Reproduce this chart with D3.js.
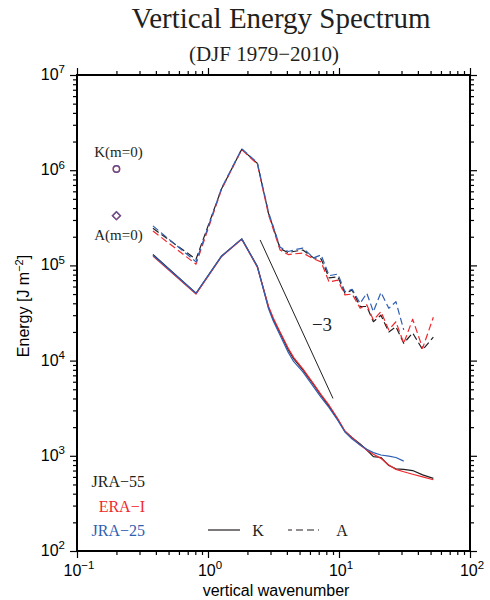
<!DOCTYPE html>
<html>
<head>
<meta charset="utf-8">
<script src="https://cdn.jsdelivr.net/npm/d3@7"></script>
<style>
  body { margin: 0; background: #fff; }
  svg { display: block; }
  .serif { font-family: "Liberation Serif", "Times New Roman", serif; }
  .sans { font-family: "Liberation Sans", Arial, Helvetica, sans-serif; }
</style>
</head>
<body>
<svg id="chart" width="490" height="600"></svg>
<script>
// vertical wavenumber grid
const wavenumber = [0.38, 0.81, 1.27, 1.81, 2.38, 2.9, 3.15, 3.55, 4.1, 4.5, 5.3, 6.4, 7.3, 8.4, 9.8,
  11.1, 12.6, 14.5, 16.3, 18.3, 20.9, 24, 27.2, 31.2, 36.5, 43.5, 52.5];

// kinetic energy K (solid)
const kJRA55 = [1.30e5, 5.1e4, 1.26e5, 1.9e5, 9.8e4, 3.6e4, 2.7e4, 1.95e4, 1.3e4, 1.05e4, 8.0e3, 5.6e3, 4.3e3, 3.3e3, 2.4e3,
  1.8e3, 1.55e3, 1.33e3, 1.15e3, 9.8e2, 9.6e2, 7.9e2, 7.3e2, 7.2e2, 7.0e2, 6.3e2, 5.8e2];
const kERAI = [1.25e5, 5.0e4, 1.24e5, 1.88e5, 9.6e4, 3.7e4, 2.8e4, 2.0e4, 1.35e4, 1.08e4, 8.2e3, 5.7e3, 4.4e3, 3.4e3, 2.45e3,
  1.82e3, 1.55e3, 1.3e3, 1.15e3, 1.04e3, 9.4e2, 8.0e2, 7.2e2, 6.8e2, 6.4e2, 6.0e2, 5.6e2];
const kJRA25 = [1.28e5, 5.1e4, 1.25e5, 1.9e5, 9.7e4, 3.5e4, 2.6e4, 1.85e4, 1.22e4, 9.8e3, 7.6e3, 5.3e3, 4.1e3, 3.2e3, 2.35e3,
  1.78e3, 1.5e3, 1.3e3, 1.17e3, 1.08e3, 1.02e3, 9.9e2, 9.6e2, 8.8e2, null, null, null];

// available potential energy A (dashed)
const aJRA55 = [2.45e5, 1.16e5, 6.4e5, 1.66e6, 1.18e6, 3.5e5, 2.5e5, 1.5e5, 1.36e5, 1.4e5, 1.45e5, 1.2e5, 1.17e5, 7.4e4, 7.6e4,
  5.1e4, 5.5e4, 3.7e4, 3.7e4, 2.56e4, 3.0e4, 2.0e4, 2.27e4, 1.52e4, 1.95e4, 1.3e4, 1.76e4];
const aERAI = [2.3e5, 1.03e5, 6.3e5, 1.64e6, 1.16e6, 3.4e5, 2.4e5, 1.45e5, 1.3e5, 1.32e5, 1.35e5, 1.17e5, 1.09e5, 6.7e4, 7.0e4,
  4.9e4, 5.0e4, 3.55e4, 3.85e4, 2.67e4, 3.27e4, 2.1e4, 2.56e4, 1.52e4, 2.72e4, 1.35e4, 2.85e4];
const aJRA25 = [2.6e5, 1.09e5, 6.5e5, 1.68e6, 1.2e6, 3.6e5, 2.55e5, 1.55e5, 1.4e5, 1.45e5, 1.52e5, 1.2e5, 1.29e5, 7.8e4, 8.1e4,
  5.3e4, 5.6e4, 4.0e4, 5.1e4, 3.27e4, 5.2e4, 3.54e4, 4.16e4, 2.1e4, null, null, null];

const datasets = ["JRA\u221255", "ERA\u2212I", "JRA\u221225"];
const colors = ["#231f20", "#f0282d", "#2f5fb3"];

// m=0 values
const m0Wavenumber = 0.2;
const m0Labels = ["K(m=0)", "A(m=0)"];
const m0Values = [1.03e6, 3.33e5];

// -3 reference line
const refK = [2.5, 9];
const refE = [1.85e5, 4.0e3];

const xTickExp = [-1, 0, 1, 2];
const yTickExp = [2, 3, 4, 5, 6, 7];

const svg = d3.select("#chart");
const plotLeft = 77, plotRight = 470, plotTop = 75, plotBottom = 551;

const x = d3.scaleLog().domain([0.1, 100]).range([plotLeft, plotRight]);
const y = d3.scaleLog().domain([1e2, 1e7]).range([plotBottom, plotTop]);

const xMajor = xTickExp.map(e => Math.pow(10, e));
const yMajor = yTickExp.map(e => Math.pow(10, e));
const xMinor = x.ticks().filter(v => !xMajor.some(m => Math.abs(m - v) / m < 1e-6));
const yMinor = y.ticks().filter(v => !yMajor.some(m => Math.abs(m - v) / m < 1e-6));

// axes: ticks on all four sides, pointing outward
function addAxis(axisFn, scale, vals, size, transform) {
  const g = svg.append("g")
    .attr("transform", transform)
    .call(axisFn(scale).tickValues(vals).tickSize(size).tickFormat(""));
  g.select(".domain").remove();
  g.selectAll(".tick line").attr("stroke", "#000").attr("stroke-width", 1.2);
}
addAxis(d3.axisBottom, x, xMajor, 7, `translate(0,${plotBottom})`);
addAxis(d3.axisBottom, x, xMinor, 4, `translate(0,${plotBottom})`);
addAxis(d3.axisTop, x, xMajor, 7, `translate(0,${plotTop})`);
addAxis(d3.axisTop, x, xMinor, 4, `translate(0,${plotTop})`);
addAxis(d3.axisLeft, y, yMajor, 7, `translate(${plotLeft},0)`);
addAxis(d3.axisLeft, y, yMinor, 4, `translate(${plotLeft},0)`);
addAxis(d3.axisRight, y, yMajor, 7, `translate(${plotRight},0)`);
addAxis(d3.axisRight, y, yMinor, 4, `translate(${plotRight},0)`);

svg.append("rect")
  .attr("x", plotLeft).attr("y", plotTop)
  .attr("width", plotRight - plotLeft).attr("height", plotBottom - plotTop)
  .attr("fill", "none").attr("stroke", "#000").attr("stroke-width", 2);

// tick labels as 10^n
function powerText(sel) {
  sel.each(function (d) {
    const t = d3.select(this);
    t.append("tspan").text("10");
    t.append("tspan").attr("dy", -6.6).attr("font-size", 11.5)
      .text(String(d).replace("-", "\u2212"));
  });
}
svg.selectAll("text.xlab").data(xTickExp).join("text")
  .attr("class", "xlab sans")
  .attr("x", d => x(Math.pow(10, d)) + 2)
  .attr("y", 576)
  .attr("text-anchor", "middle")
  .attr("font-size", 16)
  .call(powerText);

svg.selectAll("text.ylab").data(yTickExp).join("text")
  .attr("class", "ylab sans")
  .attr("x", 65)
  .attr("y", d => y(Math.pow(10, d)) + 5)
  .attr("text-anchor", "end")
  .attr("font-size", 16)
  .call(powerText);

// axis titles
svg.append("text")
  .attr("class", "sans")
  .attr("x", 276).attr("y", 596)
  .attr("text-anchor", "middle")
  .attr("font-size", 16)
  .text("vertical wavenumber");

const yt = svg.append("text")
  .attr("class", "sans")
  .attr("transform", "translate(29,306) rotate(-90)")
  .attr("text-anchor", "middle")
  .attr("font-size", 16);
yt.append("tspan").text("Energy [J m");
yt.append("tspan").attr("dy", -6).attr("font-size", 11).text("\u22122");
yt.append("tspan").attr("dy", 6).text("]");

// titles
svg.append("text")
  .attr("class", "serif")
  .attr("x", 281).attr("y", 28)
  .attr("text-anchor", "middle")
  .attr("font-size", 29)
  .attr("fill", "#231f20")
  .text("Vertical Energy Spectrum");

svg.append("text")
  .attr("class", "serif")
  .attr("x", 264).attr("y", 61)
  .attr("text-anchor", "middle")
  .attr("font-size", 21)
  .attr("fill", "#231f20")
  .text("(DJF 1979\u22122010)");

// curves
const line = d3.line()
  .defined(d => d[1] != null)
  .x(d => x(d[0]))
  .y(d => y(d[1]));

const kSeries = [kJRA55, kERAI, kJRA25];
const aSeries = [aJRA55, aERAI, aJRA25];

const curves = svg.append("g").attr("fill", "none").attr("stroke-width", 1.2)
  .attr("stroke-linejoin", "round");

kSeries.forEach((vals, i) => {
  curves.append("path")
    .datum(wavenumber.map((k, j) => [k, vals[j]]))
    .attr("stroke", colors[i])
    .attr("d", line);
  curves.append("path")
    .datum(wavenumber.map((k, j) => [k, aSeries[i][j]]))
    .attr("stroke", colors[i])
    .attr("stroke-dasharray", "7,3.5")
    .attr("d", line);
});

// -3 slope line
svg.append("path")
  .datum(refK.map((k, j) => [k, refE[j]]))
  .attr("fill", "none")
  .attr("stroke", "#231f20")
  .attr("stroke-width", 1)
  .attr("d", line);

svg.append("text")
  .attr("class", "serif")
  .attr("x", 322).attr("y", 331)
  .attr("text-anchor", "middle")
  .attr("font-size", 19)
  .attr("fill", "#231f20")
  .text("\u22123");

// m=0 markers
const mx = x(m0Wavenumber);
[colors[1], colors[2]].forEach((c, i) => {
  svg.append("circle")
    .attr("cx", mx).attr("cy", y(m0Values[0])).attr("r", 3.2)
    .attr("fill", "none").attr("stroke", c).attr("stroke-width", 1.4)
    .attr("stroke-opacity", i ? 0.75 : 1);
  svg.append("path")
    .attr("d", d3.symbol(d3.symbolDiamond2, 40)())
    .attr("transform", `translate(${mx},${y(m0Values[1])})`)
    .attr("fill", "none").attr("stroke", c).attr("stroke-width", 1.4)
    .attr("stroke-opacity", i ? 0.75 : 1);
});
svg.append("text")
  .attr("class", "serif")
  .attr("x", mx + 2).attr("y", y(m0Values[0]) - 12)
  .attr("text-anchor", "middle").attr("font-size", 15).attr("fill", "#231f20")
  .text(m0Labels[0]);
svg.append("text")
  .attr("class", "serif")
  .attr("x", mx + 2).attr("y", y(m0Values[1]) + 24)
  .attr("text-anchor", "middle").attr("font-size", 15).attr("fill", "#231f20")
  .text(m0Labels[1]);

// legend
svg.selectAll("text.legend").data(datasets).join("text")
  .attr("class", "legend serif")
  .attr("x", 145)
  .attr("y", (d, i) => 487 + i * 24.5)
  .attr("text-anchor", "end")
  .attr("font-size", 16)
  .attr("fill", (d, i) => colors[i])
  .text(d => d);

svg.append("line")
  .attr("x1", 208).attr("x2", 240).attr("y1", 530).attr("y2", 530)
  .attr("stroke", "#231f20").attr("stroke-width", 1.2);
svg.append("text").attr("class", "serif")
  .attr("x", 258).attr("y", 536).attr("text-anchor", "middle")
  .attr("font-size", 16).attr("fill", "#231f20").text("K");
svg.append("line")
  .attr("x1", 288).attr("x2", 319).attr("y1", 530).attr("y2", 530)
  .attr("stroke", "#231f20").attr("stroke-width", 1.2)
  .attr("stroke-dasharray", "7,4").attr("stroke-dashoffset", 3);
svg.append("text").attr("class", "serif")
  .attr("x", 342).attr("y", 536).attr("text-anchor", "middle")
  .attr("font-size", 16).attr("fill", "#231f20").text("A");
</script>
</body>
</html>
